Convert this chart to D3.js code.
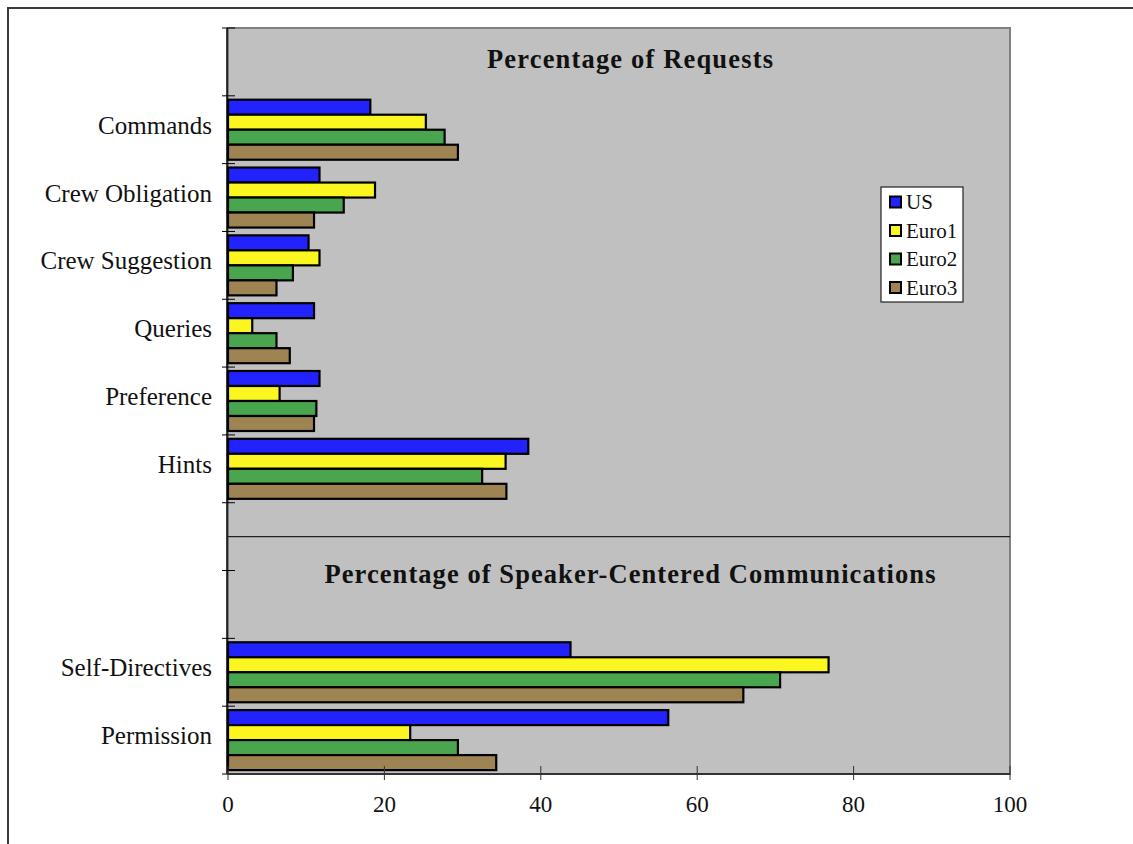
<!DOCTYPE html>
<html><head><meta charset="utf-8">
<script src="https://cdn.jsdelivr.net/npm/d3@7"></script>
<style>html,body{margin:0;padding:0;background:#fff;}svg{display:block;}</style>
</head><body>
<script>
const categories = ["", "Commands", "Crew Obligation", "Crew Suggestion", "Queries", "Preference", "Hints", "", " ", "Self-Directives", "Permission"];
const seriesNames = ["US", "Euro1", "Euro2", "Euro3"];
const US    = [null, 18.2, 11.7, 10.3, 11.0, 11.7, 38.4, null, null, 43.8, 56.3];
const Euro1 = [null, 25.3, 18.8, 11.7, 3.1, 6.6, 35.5, null, null, 76.8, 23.3];
const Euro2 = [null, 27.7, 14.8, 8.3, 6.2, 11.3, 32.5, null, null, 70.6, 29.4];
const Euro3 = [null, 29.4, 11.0, 6.2, 7.9, 11.0, 35.6, null, null, 65.9, 34.3];
const xTicks = [0, 20, 40, 60, 80, 100];
const titles = ["Percentage of Requests", "Percentage of Speaker-Centered Communications"];
const colors = ["#2222ff", "#fbf520", "#4aa64e", "#9e8453"];

const seriesValues = [US, Euro1, Euro2, Euro3];
const W = 1133, H = 844;
const L = 228, R = 1010, T = 28, B = 774;
const catKeys = categories.map((c, i) => i);

const svg = d3.select("body").append("svg").attr("width", W).attr("height", H);

// outer frame
svg.append("rect").attr("x", 8).attr("y", 8).attr("width", 1200).attr("height", 900)
  .attr("fill", "#fff").attr("stroke", "#3a3a3a").attr("stroke-width", 2);

const x = d3.scaleLinear().domain([0, 100]).range([L, R]);
const y = d3.scaleBand().domain(catKeys).range([T, B]).padding(0);
const y1 = d3.scaleBand().domain(seriesNames).range([0, y.bandwidth()]).paddingInner(0).paddingOuter(0.26);

// plot area
svg.append("rect").attr("x", L).attr("y", T).attr("width", R - L).attr("height", B - T)
  .attr("fill", "#c0c0c0").attr("stroke", "#808080").attr("stroke-width", 2);

// divider between panels
const divY = y(7) + y.bandwidth() / 2;
svg.append("line").attr("x1", L).attr("x2", R).attr("y1", divY).attr("y2", divY)
  .attr("stroke", "#222").attr("stroke-width", 1.2);

// titles
svg.append("text").attr("x", 630).attr("y", 68).attr("text-anchor", "middle")
  .attr("font-family", "'Liberation Serif', 'Times New Roman', serif").attr("font-weight", "bold")
  .attr("font-size", 26.5).attr("textLength", 286).attr("lengthAdjust", "spacing")
  .attr("fill", "#111").text(titles[0]);
svg.append("text").attr("x", 630).attr("y", 583).attr("text-anchor", "middle")
  .attr("font-family", "'Liberation Serif', 'Times New Roman', serif").attr("font-weight", "bold")
  .attr("font-size", 26.5).attr("textLength", 611).attr("lengthAdjust", "spacing")
  .attr("fill", "#111").text(titles[1]);

// bars
const groups = svg.append("g").selectAll("g").data(catKeys).join("g")
  .attr("transform", d => `translate(0,${y(d)})`);
groups.selectAll("rect")
  .data(i => seriesNames.map((s, k) => ({ s, k, v: seriesValues[k][i] })).filter(d => d.v != null))
  .join("rect")
  .attr("x", x(0))
  .attr("y", d => y1(d.s))
  .attr("width", d => x(d.v) - x(0))
  .attr("height", y1.bandwidth())
  .attr("fill", d => colors[d.k])
  .attr("stroke", "#000").attr("stroke-width", 2.2);

// y axis
const yBounds = catKeys.map(k => y(k)).concat([B]);
svg.append("line").attr("x1", L - 1).attr("x2", L - 1).attr("y1", T).attr("y2", B)
  .attr("stroke", "#000").attr("stroke-width", 1.5);
svg.append("g").selectAll("line").data(yBounds).join("line")
  .attr("x1", 222).attr("x2", 235).attr("y1", d => d).attr("y2", d => d)
  .attr("stroke", "#000").attr("stroke-width", 1);
svg.append("g").selectAll("text").data(catKeys).join("text")
  .attr("x", 212).attr("y", k => y(k) + y.bandwidth() / 2 + 4)
  .attr("text-anchor", "end")
  .attr("font-family", "'Liberation Serif', 'Times New Roman', serif")
  .attr("font-size", 25).attr("fill", "#111")
  .text(k => categories[k].trim());

// x axis
svg.append("line").attr("x1", L - 1).attr("x2", R).attr("y1", B).attr("y2", B)
  .attr("stroke", "#333").attr("stroke-width", 2);
svg.append("g").selectAll("line").data(xTicks).join("line")
  .attr("x1", d => x(d)).attr("x2", d => x(d)).attr("y1", 766).attr("y2", 780)
  .attr("stroke", "#333").attr("stroke-width", 1);
svg.append("g").selectAll("text").data(xTicks).join("text")
  .attr("x", d => x(d)).attr("y", 812).attr("text-anchor", "middle")
  .attr("font-family", "'Liberation Serif', 'Times New Roman', serif")
  .attr("font-size", 23).attr("fill", "#111").text(d => d);

// legend
const lg = svg.append("g");
lg.append("rect").attr("x", 881).attr("y", 187).attr("width", 82).attr("height", 115)
  .attr("fill", "#fff").attr("stroke", "#222").attr("stroke-width", 1.2);
const legY = d3.scalePoint().domain(seriesNames).range([202, 287.5]);
const li = lg.selectAll("g").data(seriesNames).join("g")
  .attr("transform", d => `translate(0,${legY(d)})`);
li.append("rect").attr("x", 890).attr("y", -5.5).attr("width", 11).attr("height", 11)
  .attr("fill", (d, i) => colors[i]).attr("stroke", "#000").attr("stroke-width", 2);
li.append("text").attr("x", 906).attr("y", 7)
  .attr("font-family", "'Liberation Serif', 'Times New Roman', serif")
  .attr("font-size", 21).attr("fill", "#111").text(d => d);
</script>
</body></html>
